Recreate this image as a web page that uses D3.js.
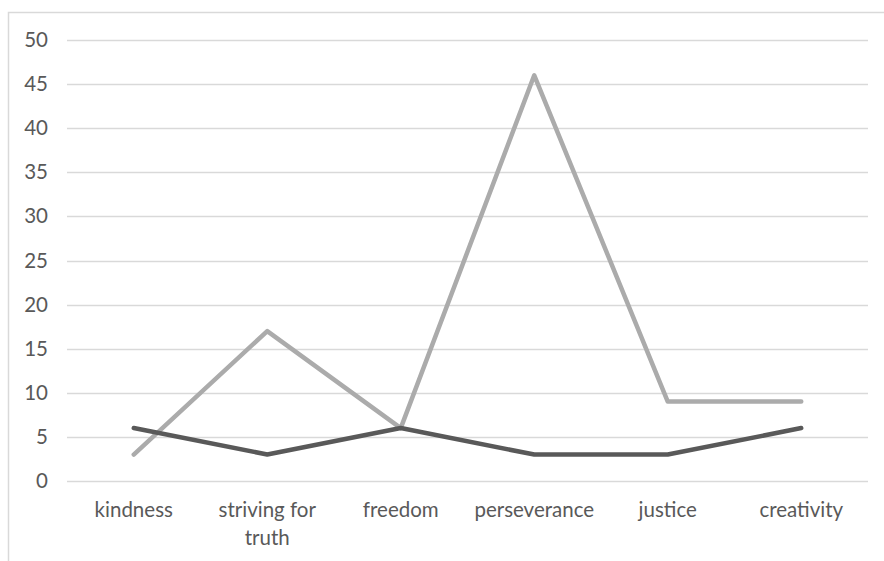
<!DOCTYPE html>
<html>
<head>
<meta charset="utf-8">
<script src="https://cdn.jsdelivr.net/npm/d3@7"></script>
<style>
  html, body { margin: 0; padding: 0; background: #fff; }
  svg { display: block; }
  text { font-family: Lato, "Open Sans", sans-serif; fill: #595959; }
</style>
</head>
<body>
<svg id="chart" width="884" height="561"></svg>
<script>
// Categories along the x axis (multi-line labels split by "\n")
const categories = ["kindness", "striving for\ntruth", "freedom", "perseverance", "justice", "creativity"];
// Two series of counts per category
const seriesLight = [3, 17, 6, 46, 9, 9];
const seriesDark = [6, 3, 6, 3, 3, 6];
const yTicks = [0, 5, 10, 15, 20, 25, 30, 35, 40, 45, 50];

const svg = d3.select("#chart");
const W = 884, H = 561;
const margin = { left: 67, right: 16, top: 40, bottom: 80 };
const fontSize = 20.5;

// Chart frame (open on the right and bottom edges)
svg.append("path")
  .attr("d", "M8.5,561 L8.5,12.5 L884,12.5")
  .attr("fill", "none")
  .attr("stroke", "#d9d9d9")
  .attr("stroke-width", 1.5);

const x = d3.scaleBand()
  .domain(categories)
  .range([margin.left, W - margin.right])
  .paddingInner(0).paddingOuter(0);

const y = d3.scaleLinear()
  .domain([0, 50])
  .range([481, 40]);

// Horizontal gridlines
svg.append("g")
  .selectAll("line")
  .data(yTicks)
  .join("line")
  .attr("x1", margin.left)
  .attr("x2", W - margin.right)
  .attr("y1", d => Math.round(y(d)) + 0.5)
  .attr("y2", d => Math.round(y(d)) + 0.5)
  .attr("stroke", "#d9d9d9")
  .attr("stroke-width", 1.3);

// Y axis labels
const yAxis = d3.axisLeft(y).tickValues(yTicks).tickSize(0).tickPadding(0);
const gy = svg.append("g")
  .attr("transform", "translate(48,0)")
  .call(yAxis);
gy.select(".domain").remove();
gy.selectAll("text")
  .attr("font-size", fontSize)
  .attr("font-family", "Lato, sans-serif")
  .attr("fill", "#666");

// X axis labels
const xAxis = d3.axisBottom(x).tickSize(0).tickPadding(0).tickFormat("");
const gx = svg.append("g")
  .attr("transform", "translate(0,481)")
  .call(xAxis);
gx.select(".domain").remove();
gx.selectAll(".tick").each(function(d) {
  const t = d3.select(this).append("text")
    .attr("text-anchor", "middle")
    .attr("font-size", fontSize)
    .attr("fill", "#666");
  d.split("\n").forEach((line, i) => {
    t.append("tspan")
      .attr("x", 0)
      .attr("y", 36 + i * 28)
      .text(line);
  });
});

const cx = d => x(d) + x.bandwidth() / 2;

const line = d3.line()
  .x((d, i) => cx(categories[i]))
  .y(d => y(d));

svg.append("path")
  .datum(seriesLight)
  .attr("d", line)
  .attr("fill", "none")
  .attr("stroke", "#ababab")
  .attr("stroke-width", 4.5)
  .attr("stroke-linejoin", "round")
  .attr("stroke-linecap", "round");

svg.append("path")
  .datum(seriesDark)
  .attr("d", line)
  .attr("fill", "none")
  .attr("stroke", "#595959")
  .attr("stroke-width", 4.5)
  .attr("stroke-linejoin", "round")
  .attr("stroke-linecap", "round");
</script>
</body>
</html>
